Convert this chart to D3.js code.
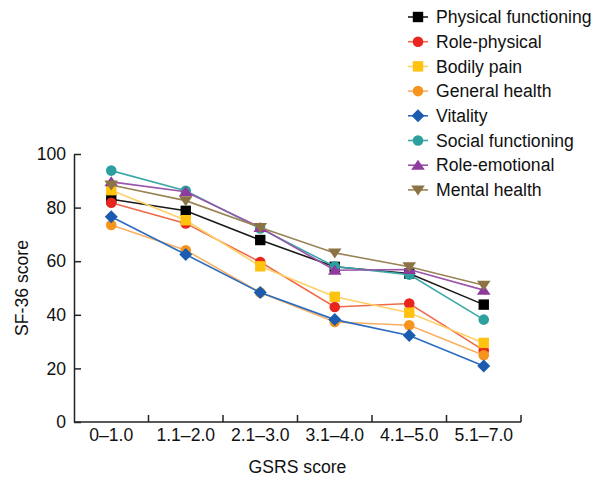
<!DOCTYPE html>
<html>
<head>
<meta charset="utf-8">
<script src="https://cdn.jsdelivr.net/npm/d3@7"></script>
<style>
  html, body { margin: 0; padding: 0; background: #fff; }
  svg { display: block; font-family: "Liberation Sans", Arial, sans-serif; }
</style>
</head>
<body>
<svg id="chart" width="604" height="478"></svg>
<script>
// GSRS score groups on the x axis
const categories = ["0\u20131.0", "1.1\u20132.0", "2.1\u20133.0", "3.1\u20134.0", "4.1\u20135.0", "5.1\u20137.0"];

// SF-36 domain names (legend order)
const seriesNames = [
  "Physical functioning", "Role-physical", "Bodily pain", "General health",
  "Vitality", "Social functioning", "Role-emotional", "Mental health"
];

// Mean SF-36 score for each domain across GSRS groups
const physicalFunctioning = [83.1, 78.8, 67.9, 57.9, 55.4, 43.8];
const rolePhysical        = [81.8, 74.1, 59.7, 42.9, 44.2, 26.7];
const bodilyPain          = [86.5, 75.3, 58.1, 46.7, 40.8, 29.5];
const generalHealth       = [73.5, 64.1, 48.3, 37.3, 36.1, 24.9];
const vitality            = [76.6, 62.5, 48.3, 38.2, 32.3, 20.9];
const socialFunctioning   = [93.8, 86.3, 72.2, 58.0, 55.0, 38.2];
const roleEmotional       = [89.6, 85.9, 72.6, 56.6, 56.9, 49.2];
const mentalHealth        = [88.4, 82.6, 72.6, 63.1, 57.9, 51.0];

const yTicks = [0, 20, 40, 60, 80, 100];

const seriesValues = [
  physicalFunctioning, rolePhysical, bodilyPain, generalHealth,
  vitality, socialFunctioning, roleEmotional, mentalHealth
];

// Per-series styling: marker fill, line colour, marker symbol
const styles = [
  { fill: "#000000", line: "#1a1a1a", symbol: "square" },
  { fill: "#e8261f", line: "#ef6a4a", symbol: "circle" },
  { fill: "#ffc20e", line: "#ffd066", symbol: "square" },
  { fill: "#f7941d", line: "#f9b062", symbol: "circle" },
  { fill: "#1b5cb0", line: "#2b6cc0", symbol: "diamond" },
  { fill: "#2e9f9f", line: "#3aa8a8", symbol: "circle" },
  { fill: "#8e3a9e", line: "#9a55aa", symbol: "triangle" },
  { fill: "#8b7343", line: "#9a8356", symbol: "triangleDown" }
];

const svg = d3.select("#chart");
const margin = { left: 74, right: 83, top: 154, bottom: 56 };
const W = 604, H = 478;
const plotLeft = margin.left, plotRight = W - margin.right;
const plotTop = margin.top, plotBottom = H - margin.bottom;

const x = d3.scaleBand().domain(categories).range([plotLeft, plotRight]).paddingInner(0).paddingOuter(0);
const y = d3.scaleLinear().domain([0, 100]).range([plotBottom, plotTop]);

const fontSize = 17.6;

// Y axis with inward ticks
const yAxis = svg.append("g").attr("transform", `translate(${plotLeft},0)`)
  .call(d3.axisLeft(y).tickValues(yTicks).tickSize(-7).tickSizeOuter(0).tickPadding(8).tickFormat(d3.format("d")));
yAxis.select(".domain").attr("stroke", "#222").attr("stroke-width", 1.5);
yAxis.selectAll(".tick line").attr("stroke", "#222").attr("stroke-width", 1.5);
yAxis.selectAll(".tick text").attr("font-size", fontSize).attr("fill", "#111").attr("font-family", "Liberation Sans, Arial, sans-serif");

// X axis: line with inward ticks at band boundaries
const xAxisG = svg.append("g");
xAxisG.append("line")
  .attr("x1", plotLeft).attr("x2", plotRight)
  .attr("y1", plotBottom).attr("y2", plotBottom)
  .attr("stroke", "#222").attr("stroke-width", 1.5);
const boundaries = categories.slice(1).map(c => x(c)).concat([plotRight]);
xAxisG.selectAll("line.tk").data(boundaries).join("line")
  .attr("class", "tk")
  .attr("x1", d => d).attr("x2", d => d)
  .attr("y1", plotBottom).attr("y2", plotBottom - 7)
  .attr("stroke", "#222").attr("stroke-width", 1.5);
xAxisG.selectAll("text").data(categories).join("text")
  .attr("x", d => x(d) + x.bandwidth() / 2)
  .attr("y", plotBottom + 19)
  .attr("text-anchor", "middle")
  .attr("font-size", fontSize)
  .attr("fill", "#111")
  .text(d => d);

// Axis titles
svg.append("text")
  .attr("x", (plotLeft + plotRight) / 2).attr("y", 473)
  .attr("text-anchor", "middle").attr("font-size", fontSize).attr("fill", "#111")
  .text("GSRS score");
svg.append("text")
  .attr("transform", `translate(28,${(plotTop + plotBottom) / 2}) rotate(-90)`)
  .attr("text-anchor", "middle").attr("font-size", fontSize).attr("fill", "#111")
  .text("SF-36 score");

// Marker shapes drawn around the origin
const symbolPath = kind => {
  switch (kind) {
    case "square": return "M-5.2,-5.2H5.2V5.2H-5.2Z";
    case "circle": return d3.symbol().type(d3.symbolCircle).size(88)();
    case "diamond": return "M0,-6.5L6.5,0L0,6.5L-6.5,0Z";
    case "triangle": return "M0,-5.5L6.8,4.5L-6.8,4.5Z";
    case "triangleDown": return "M0,5.5L6.8,-4.5L-6.8,-4.5Z";
  }
};

const cx = c => x(c) + x.bandwidth() / 2;
const line = d3.line().x((d, i) => cx(categories[i])).y(d => y(d));

// Series lines and markers
seriesValues.forEach((vals, s) => {
  const st = styles[s];
  const g = svg.append("g");
  g.append("path").datum(vals)
    .attr("d", line).attr("fill", "none")
    .attr("stroke", st.line).attr("stroke-width", 1.6);
  g.selectAll("path.m").data(vals).join("path")
    .attr("class", "m")
    .attr("d", symbolPath(st.symbol))
    .attr("transform", (d, i) => `translate(${cx(categories[i])},${y(d)})`)
    .attr("fill", st.fill);
});

// Legend
const legend = svg.append("g");
const legendX = 408, legendY0 = 17, legendStep = 24.7;
seriesNames.forEach((name, s) => {
  const st = styles[s];
  const ly = legendY0 + s * legendStep;
  legend.append("line")
    .attr("x1", legendX).attr("x2", legendX + 20)
    .attr("y1", ly).attr("y2", ly)
    .attr("stroke", st.line).attr("stroke-width", 1.6);
  legend.append("path")
    .attr("d", symbolPath(st.symbol))
    .attr("transform", `translate(${legendX + 10},${ly})`)
    .attr("fill", st.fill);
  legend.append("text")
    .attr("x", legendX + 28).attr("y", ly)
    .attr("dy", "0.35em")
    .attr("font-size", fontSize).attr("fill", "#111")
    .text(name);
});
</script>
</body>
</html>
